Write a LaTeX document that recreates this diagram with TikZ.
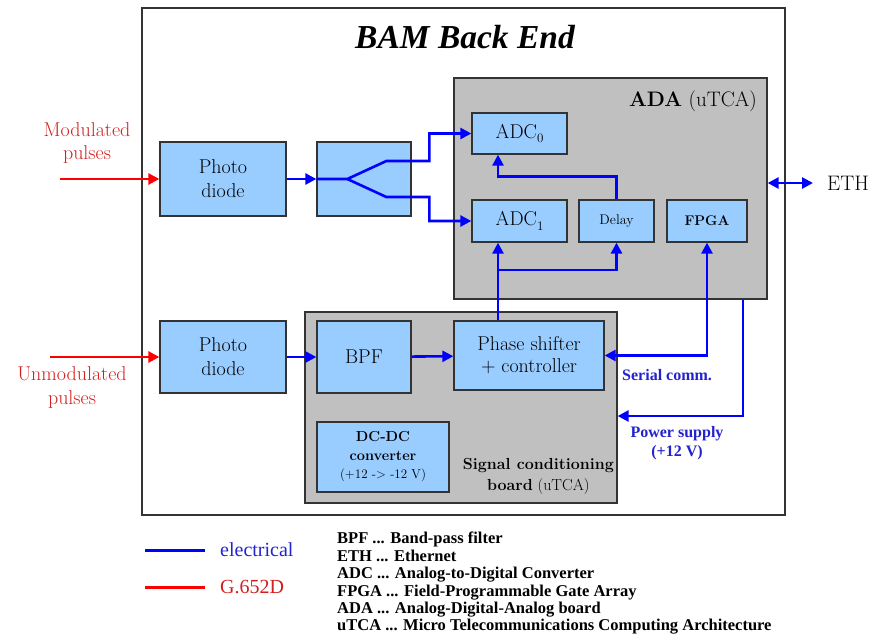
\documentclass[tikz,border=0pt]{standalone}
\usepackage{fontspec}
\newfontfamily\timesfont{Liberation Serif}
\usetikzlibrary{arrows.meta,positioning}
\definecolor{boxblue}{RGB}{153,204,255}
\definecolor{boardgray}{RGB}{192,192,192}
\definecolor{wireblue}{RGB}{0,0,255}
\definecolor{fibrered}{RGB}{255,0,0}
\definecolor{textred}{RGB}{210,30,30}
\definecolor{textblue}{RGB}{35,35,205}
\newcommand{\setsize}[2]{\fontsize{#1}{#2}\selectfont}
\newcommand{\lowsub}[1]{\raisebox{-0.22em}{\setsize{13}{13}#1}}
\tikzset{
  frame/.style={draw=black!80, line width=1.5pt, inner sep=0pt},
  board/.style={draw=black!80, line width=1.3pt, fill=boardgray, inner sep=0pt},
  blk/.style={draw=black!80, line width=1.3pt, fill=boxblue, inner sep=0pt,
    align=center, font=\setsize{20}{24}},
  wire/.style={draw=wireblue, line width=2.6pt, ->},
  fibre/.style={draw=fibrered, line width=2.6pt, ->},
  sig label/.style={text=textblue, inner sep=0pt, align=center,
    font=\timesfont\setsize{16}{19}\bfseries},
}
\begin{document}
\begin{tikzpicture}[x=1pt, y=-1pt, >={Triangle[length=11pt,width=11pt]}]
\useasboundingbox (0,0) rectangle (872,641); % page frame

% outer frame
\node[frame, minimum width=643pt, minimum height=507pt] (bam) at (463.5,261.5) {};
\node[font=\timesfont\setsize{33.5}{36}\bfseries\itshape] (title) at (465,37) {BAM Back End};

% ADA board
\node[board, minimum width=313pt, minimum height=221pt] (ada) at (610.5,188.5) {};
\node[anchor=east, inner sep=0pt, font=\setsize{21}{24}] (adaname) at (757,101) {\textbf{ADA} (uTCA)};
\node[blk, minimum width=95pt, minimum height=41pt] (adc0) at (519.5,133.5) {ADC\lowsub{0}};
\node[blk, minimum width=95pt, minimum height=42pt] (adc1) at (519.5,221) {ADC\lowsub{1}};
\node[blk, minimum width=75pt, minimum height=42pt, font=\setsize{14}{16}] (delay) at (616.5,221) {Delay};
\node[blk, minimum width=80pt, minimum height=42pt, font=\setsize{14}{16}\bfseries] (fpga) at (707,221) {FPGA};

% signal conditioning board
\node[board, minimum width=312pt, minimum height=191pt] (scb) at (461,407.5) {};
\node[anchor=south east, inner sep=0pt, align=center, font=\setsize{16}{21}] (scbname) at (614,495)
  {\textbf{Signal conditioning}\\\textbf{board} (uTCA)};
\node[blk, minimum width=94pt, minimum height=72pt] (bpf) at (364,357) {BPF};
\node[blk, minimum width=150pt, minimum height=69pt, font=\setsize{20}{22}] (ps) at (529,355.5) {Phase shifter\\+ controller};
\node[blk, minimum width=132pt, minimum height=70pt, font=\setsize{14.5}{18.5}] (dcdc) at (383,457)
  {\textbf{DC-DC}\\\textbf{converter}\\{\setsize{13}{18.5}(+12 -> -12 V)}};

% front end
\node[blk, minimum width=126pt, minimum height=74pt] (pd1) at (223,179) {Photo\\diode};
\node[blk, minimum width=94pt, minimum height=74pt] (split) at (364,179) {};
\node[blk, minimum width=126pt, minimum height=72pt] (pd2) at (223,357) {Photo\\diode};

% optical inputs
\node[text=textred, align=center, font=\setsize{20}{23}] (modlabel) at (87,143) {Modulated\\pulses};
\node[text=textred, align=center, font=\setsize{20}{24}] (unmodlabel) at (72,387) {Unmodulated\\pulses};
\coordinate (modin) at (60,179);
\coordinate (unmodin) at (50,357);
\draw[fibre] (modin) -- (pd1);
\draw[fibre] (unmodin) -- (pd2);

% electrical paths
\draw[wire] (pd1) -- (split);
\draw[wire] (split.west) -- ++(31,0) coordinate (fork) -- ++(39,-18) -- ++(43,0) |- (adc0);
\draw[wire] (fork) -- ++(39,18) -- ++(43,0) |- (adc1);
\draw[wire] (pd2) -- (bpf);
\draw[wire] (bpf) -- (ps);
\coordinate (tap) at (498,270);
\draw[wire] (ps.north -| tap) -- (adc1.south -| tap);
\draw[wire] (tap) -| (delay);
\draw[wire] (delay.north) -- ++(0,-23) -| (adc0.south -| tap);
\draw[wire, <->] (fpga) |- (ps);
\coordinate (pwr) at (743,416);
\draw[wire] (ada.south -| pwr) |- (scb.east |- pwr);
\node[sig label, anchor=west] (serial) at (622,375) {Serial comm.};
\node[sig label] (pwrlabel) at (677,443) {Power supply\\(+12 V)};

% ethernet
\node[anchor=west, inner sep=0pt, font=\setsize{21}{24}] (eth) at (827,183) {ETH};
\draw[wire, <->, shorten >=14pt] (ada.east |- eth.west) -- (eth.west);

% legend
\coordinate (elecA) at (145,550);
\coordinate (elecB) at (205,550);
\coordinate (fibA) at (145,587);
\coordinate (fibB) at (205,587);
\draw[wireblue, line width=3pt] (elecA) -- (elecB);
\draw[fibrered, line width=3pt] (fibA) -- (fibB);
\node[anchor=west, inner sep=0pt, text=textblue, font=\timesfont\setsize{20}{24}] (elec) at (220,550) {electrical};
\node[anchor=west, inner sep=0pt, text=textred, font=\timesfont\setsize{20}{24}] (fib) at (220,587) {G.652D};
\node[anchor=north west, inner sep=0pt, align=left, font=\timesfont\setsize{16.5}{17.4}\bfseries] (abbr) at (337,532)
  {BPF ... Band-pass filter\\
   ETH ... Ethernet\\
   ADC ... Analog-to-Digital Converter\\
   FPGA ... Field-Programmable Gate Array\\
   ADA ... Analog-Digital-Analog board\\
   uTCA ... Micro Telecommunications Computing Architecture};
\end{tikzpicture}
\end{document}
